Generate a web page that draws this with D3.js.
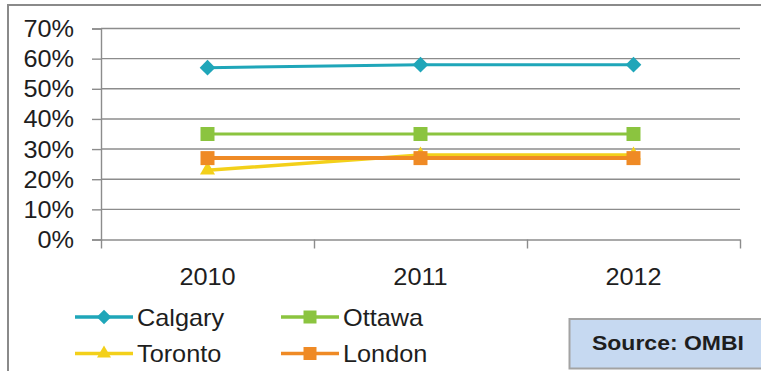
<!DOCTYPE html>
<html>
<head>
<meta charset="utf-8">
<script src="https://cdn.jsdelivr.net/npm/d3@7"></script>
<style>
  html, body { margin: 0; padding: 0; background: #fff; }
  svg { display: block; }
  text { font-family: "Liberation Sans", Arial, sans-serif; fill: #1e1e1e; }
</style>
</head>
<body>
<svg id="chart" width="761" height="371"></svg>
<script>
const years = ["2010", "2011", "2012"];
const yTicks = [0, 0.1, 0.2, 0.3, 0.4, 0.5, 0.6, 0.7];
const seriesNames = ["Calgary", "Ottawa", "Toronto", "London"];
const calgary = [0.57, 0.58, 0.58];
const ottawa  = [0.35, 0.35, 0.35];
const toronto = [0.23, 0.28, 0.28];
const london  = [0.27, 0.27, 0.27];
const sourceLabel = "Source: OMBI";

(function () {
const series = [
  { name: "Calgary", values: calgary, color: "#1fa6b9", marker: "diamond", width: 3 },
  { name: "Ottawa",  values: ottawa,  color: "#8bc43f", marker: "square",  width: 3 },
  { name: "Toronto", values: toronto, color: "#f3d01a", marker: "triangle", width: 3.5 },
  { name: "London",  values: london,  color: "#ef8a25", marker: "square",  width: 4 }
];

const svg = d3.select("#chart");
const W = 761, H = 371;
const pLeft = 101, pRight = 740, pTop = 28.5, pBottom = 239.5;
const SX = 1.1; // horizontal stretch of glyphs in the reference

// outer frame (left + top visible)
svg.append("path")
  .attr("d", `M8,${H} L8,5 L${W},5`)
  .attr("fill", "none").attr("stroke", "#8a8a8a").attr("stroke-width", 2);

const x = d3.scaleBand().domain(years).range([pLeft, pRight]).padding(0);
const y = d3.scaleLinear().domain([0, 0.7]).range([pBottom, pTop]);

// gridlines
svg.append("g").selectAll("line").data(yTicks.filter(d => d > 0)).join("line")
  .attr("x1", pLeft).attr("x2", pRight)
  .attr("y1", d => y(d)).attr("y2", d => y(d))
  .attr("stroke", "#8c8c8c").attr("stroke-width", 1.4);

// y axis
const yAxis = d3.axisLeft(y).tickValues(yTicks).tickSize(9).tickFormat("");
const gy = svg.append("g").attr("transform", `translate(${pLeft},0)`).call(yAxis);
gy.select(".domain").attr("stroke", "#8c8c8c").attr("stroke-width", 1.4);
gy.selectAll(".tick line").attr("stroke", "#8c8c8c").attr("stroke-width", 1.4);

// x axis
const xAxis = d3.axisBottom(d3.scaleLinear().domain([0, 3]).range([pLeft, pRight]))
  .tickValues([0, 1, 2, 3]).tickSize(9).tickSizeOuter(0).tickFormat("");
const gx = svg.append("g").attr("transform", `translate(0,${pBottom})`).call(xAxis);
gx.select(".domain").attr("stroke", "#8c8c8c").attr("stroke-width", 1.4);
gx.selectAll(".tick line").attr("stroke", "#8c8c8c").attr("stroke-width", 1.4);

function stretchedText(g, str, tx, ty, anchor, size, weight) {
  return g.append("text")
    .attr("transform", `translate(${tx},${ty}) scale(${SX},1)`)
    .attr("text-anchor", anchor)
    .attr("font-size", size)
    .attr("font-weight", weight || "normal")
    .text(str);
}

// y labels
const gyl = svg.append("g");
yTicks.forEach(t => stretchedText(gyl, d3.format(".0%")(t), 74, y(t) + 8.5, "end", 23));

// x labels
const gxl = svg.append("g");
years.forEach(yr => stretchedText(gxl, yr, x(yr) + x.bandwidth() / 2, 285, "middle", 23));

// marker helper
function markerPath(type, s) {
  if (type === "diamond") {
    const h = s * 0.56;
    return `M0,${-h}L${h},0L0,${h}L${-h},0Z`;
  }
  if (type === "triangle") return d3.symbol(d3.symbolTriangle, s * s * 0.5)();
  return d3.symbol(d3.symbolSquare, s * s)();
}

const line = d3.line()
  .x((d, i) => x(years[i]) + x.bandwidth() / 2)
  .y(d => y(d));

series.forEach(s => {
  const g = svg.append("g");
  g.append("path").attr("d", line(s.values))
    .attr("fill", "none").attr("stroke", s.color).attr("stroke-width", s.width);
  g.selectAll("path.m").data(s.values).join("path").attr("class", "m")
    .attr("d", markerPath(s.marker, 14))
    .attr("transform", (d, i) => `translate(${x(years[i]) + x.bandwidth() / 2},${y(d)})`)
    .attr("fill", s.color);
});

// legend
const legendPos = [
  { lx: 75, ly: 317 }, { lx: 281, ly: 317 },
  { lx: 75, ly: 353.5 }, { lx: 281, ly: 353.5 }
];
series.forEach((s, i) => {
  const p = legendPos[i];
  const g = svg.append("g");
  g.append("line").attr("x1", p.lx).attr("x2", p.lx + 58).attr("y1", p.ly).attr("y2", p.ly)
    .attr("stroke", s.color).attr("stroke-width", 3.3);
  g.append("path").attr("d", markerPath(s.marker, 13))
    .attr("transform", `translate(${p.lx + 29},${p.ly})`).attr("fill", s.color);
  stretchedText(g, seriesNames[i], p.lx + 62, p.ly + 8.5, "start", 23);
});

// source box
svg.append("rect").attr("x", 569.5).attr("y", 319).attr("width", 200).attr("height", 49.5)
  .attr("fill", "#c6d9f1").attr("stroke", "#a3a3a3").attr("stroke-width", 2);
svg.append("text").attr("x", 592).attr("y", 349.5)
  .attr("font-size", 21).attr("font-weight", "bold")
  .attr("textLength", 152).attr("lengthAdjust", "spacingAndGlyphs")
  .text(sourceLabel);
})();
</script>
</body>
</html>
